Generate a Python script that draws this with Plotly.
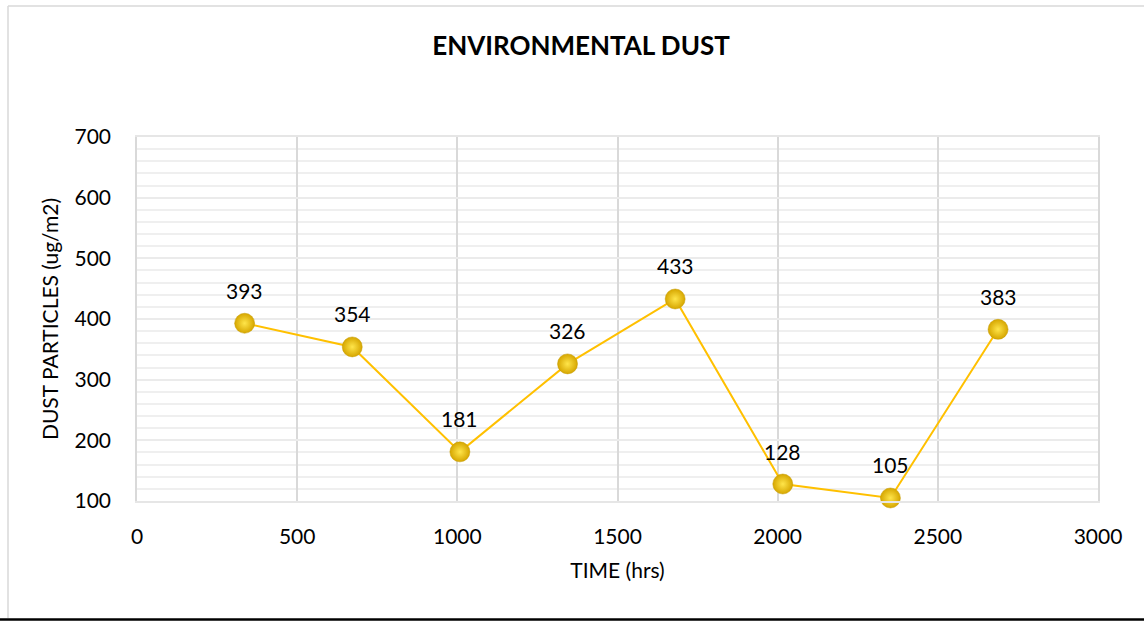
import plotly.graph_objects as go

time_hrs = [336, 672, 1008, 1344, 1680, 2016, 2352, 2688]
dust = [393, 354, 181, 326, 433, 128, 105, 383]
title_text = "ENVIRONMENTAL DUST"
x_title = "TIME (hrs)"
y_title = "DUST PARTICLES (ug/m2)"

W, H = 1144, 621
L, R, T, B = 137, 46, 137, 120
pw, ph = W - L - R, H - T - B

def px(x):
    return (x - L) / pw

def py(y):
    return (H - B - y) / ph

font_family = "Lato, 'Open Sans', sans-serif"

fig = go.Figure()
fig.add_trace(go.Scatter(
    x=time_hrs, y=dust,
    mode="lines+markers",
    line=dict(color="#FFC000", width=2),
    marker=dict(size=20, color="#D6A600",
                gradient=dict(type="radial", color="#FFE54A"),
                line=dict(color="#C49A00", width=0.5)),
    cliponaxis=False,
    hoverinfo="x+y",
))

for xv, yv in zip(time_hrs, dust):
    fig.add_annotation(x=xv, y=yv, text=str(yv), showarrow=False,
                       yshift=33, xanchor="center", yanchor="middle",
                       font=dict(size=21, color="#000000", family=font_family))

fig.update_layout(
    width=W, height=H,
    margin=dict(l=L, r=R, t=T, b=B),
    paper_bgcolor="white", plot_bgcolor="white",
    showlegend=False,
    font=dict(family=font_family, color="#000000"),
    title=dict(text="<b>" + title_text + "</b>", x=581 / W, xanchor="center",
               y=1 - 46 / H, yanchor="middle",
               font=dict(size=26, color="#000000", family=font_family)),
    xaxis=dict(range=[0, 3000], dtick=500, tick0=0,
               showgrid=True, gridcolor="#D9D9D9", gridwidth=1.5,
               zeroline=False, showline=True, mirror=True,
               linecolor="#E6E6E6", linewidth=1.5,
               ticks="", tickfont=dict(size=21), ticklabelstandoff=16,
               title=dict(text=x_title, font=dict(size=21), standoff=16),
               fixedrange=True),
    yaxis=dict(range=[100, 700], dtick=100, tick0=100,
               showgrid=True, gridcolor="#EBEBEB", gridwidth=1.5,
               zeroline=False, showline=True, mirror=True,
               linecolor="#D9D9D9", linewidth=1.5,
               minor=dict(dtick=20, showgrid=True, gridcolor="#EFEFEF", gridwidth=1.5),
               ticks="", tickfont=dict(size=21), ticklabelstandoff=20,
               title=dict(text=y_title, font=dict(size=21), standoff=10),
               fixedrange=True),
)

# chart frame (light gray) and bottom dark edge
fig.add_shape(type="line", xref="paper", yref="paper",
              x0=px(8), x1=px(8), y0=py(6), y1=py(618),
              line=dict(color="#D9D9D9", width=1.5))
fig.add_shape(type="line", xref="paper", yref="paper",
              x0=px(8), x1=px(1144), y0=py(6), y1=py(6),
              line=dict(color="#D9D9D9", width=1.5))
fig.add_shape(type="line", xref="paper", yref="paper",
              x0=px(0), x1=px(1144), y0=py(619.5), y1=py(619.5),
              line=dict(color="#000000", width=2.5))

fig.write_html("out.html", config=dict(displayModeBar=False),
               post_script="document.body.style.margin='0';document.body.style.overflow='hidden';")
